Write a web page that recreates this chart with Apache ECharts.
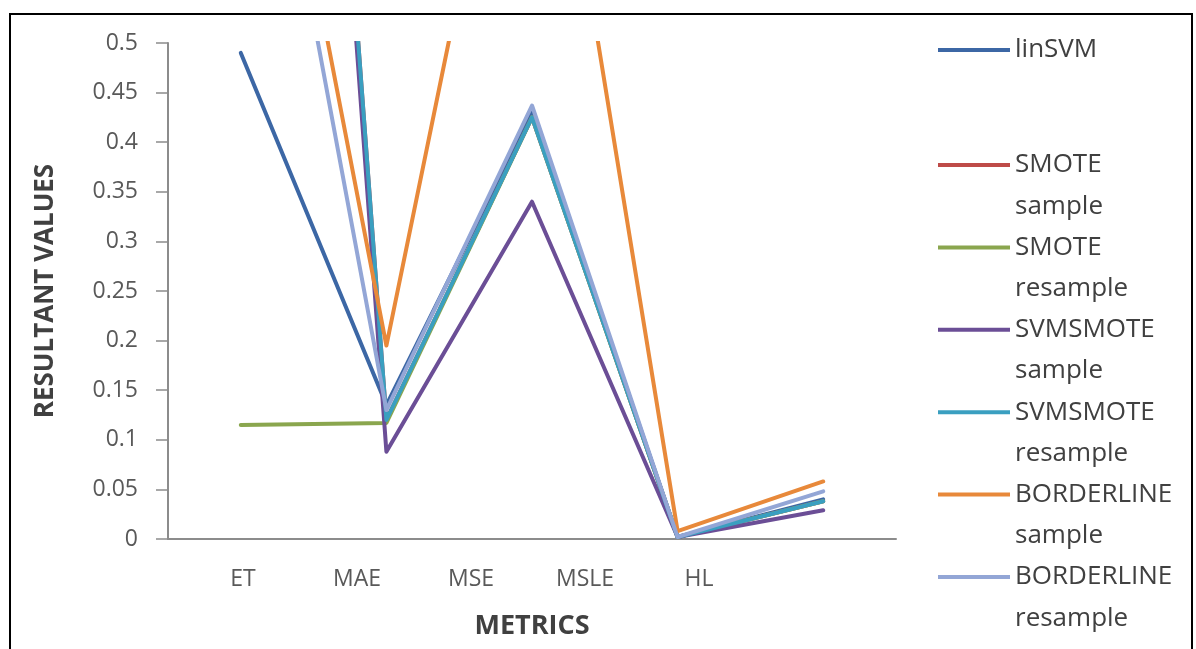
<!DOCTYPE html>
<html>
<head>
<meta charset="utf-8">
<script src="https://cdn.jsdelivr.net/npm/echarts@6/dist/echarts.min.js"></script>
<style>
  html, body { margin: 0; padding: 0; background: #ffffff; }
  #chart { width: 1196px; height: 649px; }
</style>
</head>
<body>
<div id="chart"></div>
<script>
// ---- data ----
const categories = ['ET', 'MAE', 'MSE', 'MSLE', 'HL'];
const seriesNames = ['linSVM', 'SMOTE sample', 'SMOTE resample', 'SVMSMOTE sample', 'SVMSMOTE resample', 'BORDERLINE sample', 'BORDERLINE resample'];
const linSVM            = [0.49, 0.135, 0.43, 0.002, 0.040];
const smoteSample       = [2.09, 0.120, 0.425, 0.002, 0.038];
const smoteResample     = [0.115, 0.117, 0.425, 0.002, 0.038];
const svmsmoteSample    = [2.09, 0.088, 0.340, 0.002, 0.029];
const svmsmoteResample  = [2.09, 0.120, 0.425, 0.002, 0.038];
const borderlineSample  = [0.955, 0.195, 0.910, 0.008, 0.058];
const borderlineResample= [0.918, 0.130, 0.437, 0.002, 0.048];
const seriesValues = [linSVM, smoteSample, smoteResample, svmsmoteSample, svmsmoteResample, borderlineSample, borderlineResample];
const colors = ['#3C67A5', '#BE4B48', '#8AA64E', '#6B4E96', '#3A9FC0', '#E8893A', '#93A6D6'];

const FONT = "'Open Sans', 'Noto Sans', sans-serif";
const chart = echarts.init(document.getElementById('chart'), null, { renderer: 'canvas' });

const series = seriesNames.map((name, i) => ({
  name: name,
  type: 'line',
  xAxisIndex: 0,
  yAxisIndex: 0,
  data: seriesValues[i],
  symbol: 'none',
  showSymbol: false,
  clip: true,
  color: colors[i],
  lineStyle: { width: 4, color: colors[i], cap: 'round', join: 'round' },
  emphasis: { disabled: true },
  animation: false
}));

const legendText = { fontFamily: FONT, fontSize: 26, color: '#404040', lineHeight: 41.2 };

const option = {
  backgroundColor: '#ffffff',
  animation: false,
  color: colors,
  graphic: [{
    type: 'rect',
    shape: { x: 10, y: 14, width: 1182, height: 700 },
    style: { fill: 'none', stroke: '#000000', lineWidth: 2 },
    silent: true
  }],
  grid: [
    { left: 168, right: 300, top: 43, bottom: 110, containLabel: false },
    { left: 186, right: 440, top: 43, bottom: 110, containLabel: false }
  ],
  legend: [
    {
      data: [seriesNames[0]],
      orient: 'vertical',
      left: 938, top: 29.4,
      padding: 0, itemGap: 0,
      itemWidth: 72, itemHeight: 4,
      icon: 'rect',
      symbolKeepAspect: false,
      itemStyle: { borderWidth: 0 },
      selectedMode: false,
      textStyle: legendText
    },
    {
      data: seriesNames.slice(1),
      orient: 'vertical',
      left: 938, top: 144.4,
      padding: 0, itemGap: 0,
      itemWidth: 72, itemHeight: 82.4,
      icon: 'path://M0,0M0,186L720,186L720,226L0,226ZM720,824',
      symbolKeepAspect: false,
      itemStyle: { borderWidth: 0 },
      selectedMode: false,
      formatter: (name) => name.replace(' ', '\n'),
      textStyle: legendText
    }
  ],
  xAxis: [
    {
      type: 'category',
      gridIndex: 0,
      data: categories,
      boundaryGap: true,
      axisLine: { show: true, lineStyle: { color: '#8C8C8C', width: 2 } },
      axisTick: { show: false },
      axisLabel: { show: false },
      splitLine: { show: false },
      name: 'METRICS',
      nameLocation: 'middle',
      nameGap: 74,
      nameTextStyle: { fontFamily: FONT, fontSize: 27, fontWeight: 'bold', color: '#404040' }
    },
    {
      type: 'category',
      gridIndex: 1,
      data: categories,
      boundaryGap: true,
      axisLine: { show: false },
      axisTick: { show: false },
      splitLine: { show: false },
      axisLabel: { show: true, margin: 29, fontFamily: FONT, fontSize: 23, color: '#595959' }
    }
  ],
  yAxis: [
    {
      type: 'value',
      gridIndex: 0,
      min: 0, max: 0.5, interval: 0.05,
      axisLine: { show: true, lineStyle: { color: '#8C8C8C', width: 2 } },
      axisTick: { show: true, length: 12, lineStyle: { color: '#8C8C8C', width: 1.5 } },
      splitLine: { show: false },
      axisLabel: { margin: 30, fontFamily: FONT, fontSize: 23, color: '#595959' },
      name: 'RESULTANT VALUES',
      nameLocation: 'middle',
      nameRotate: 90,
      nameGap: 109,
      nameTextStyle: { fontFamily: FONT, fontSize: 26, fontWeight: 'bold', color: '#404040' }
    },
    {
      type: 'value',
      gridIndex: 1,
      min: 0, max: 0.5,
      show: false
    }
  ],
  series: series
};

chart.setOption(option);
</script>
</body>
</html>
